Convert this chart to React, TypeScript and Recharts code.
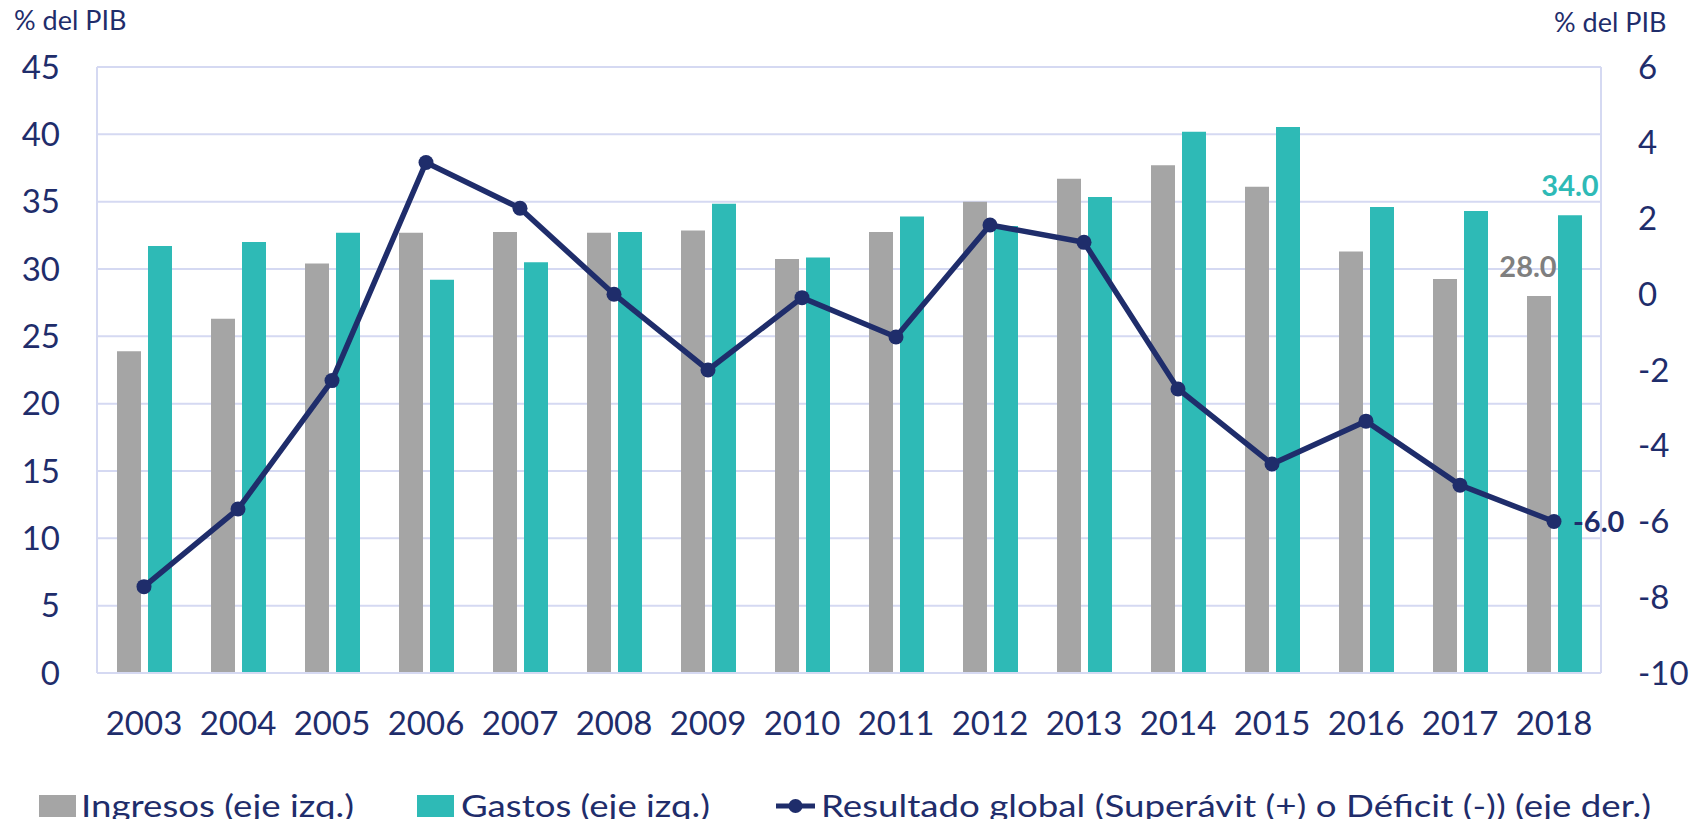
import React from 'react';
import {
  ComposedChart,
  Bar,
  Line,
  XAxis,
  YAxis,
  CartesianGrid,
  LabelList,
} from 'recharts';

const years = ['2003', '2004', '2005', '2006', '2007', '2008', '2009', '2010', '2011', '2012', '2013', '2014', '2015', '2016', '2017', '2018'];
const ingresos = [23.9, 26.3, 30.4, 32.7, 32.75, 32.7, 32.85, 30.75, 32.75, 35.0, 36.7, 37.7, 36.1, 31.3, 29.25, 28.0];
const gastos = [31.7, 32.0, 32.7, 29.2, 30.5, 32.75, 34.85, 30.85, 33.9, 33.2, 35.35, 40.2, 40.55, 34.6, 34.3, 34.0];
const resultado = [-7.72, -5.67, -2.28, 3.48, 2.27, 0.0, -2.0, -0.09, -1.13, 1.83, 1.37, -2.5, -4.48, -3.35, -5.04, -6.0];

const leftTicks = [0, 5, 10, 15, 20, 25, 30, 35, 40, 45];
const rightTicks = [-10, -8, -6, -4, -2, 0, 2, 4, 6];
const axisTitle = '% del PIB';

const seriesNames = {
  ingresos: 'Ingresos (eje izq.)',
  gastos: 'Gastos (eje izq.)',
  resultado: 'Resultado global (Superávit (+) o Déficit (-)) (eje der.)',
};

const GRAY = '#A5A5A5';
const TEAL = '#2EBAB6';
const NAVY = '#1F2D6B';
const GRID = '#D5D9F2';
const LABEL_GRAY = '#7F7F7F';
const FONT = 'Lato, "Open Sans", sans-serif';

const data = years.map((year, i) => ({
  year,
  ingresos: ingresos[i],
  gastos: gastos[i],
  resultado: resultado[i],
}));

const last = years.length - 1;

const barLabel = (color: string, dx: number) => (props: any) => {
  const { x, y, width, value, index } = props;
  if (index !== last) return null;
  return (
    <text
      x={Number(x) + Number(width) / 2 + dx}
      y={Number(y) - 19}
      textAnchor="middle"
      fill={color}
      fontSize={29}
      fontWeight={700}
      fontFamily={FONT}
    >
      {Number(value).toFixed(1)}
    </text>
  );
};

const lineLabel = (props: any) => {
  const { x, y, value, index } = props;
  if (index !== last) return null;
  return (
    <text
      x={Number(x) + 19}
      y={Number(y)}
      dy="0.36em"
      textAnchor="start"
      fill={NAVY}
      fontSize={29}
      fontWeight={700}
      fontFamily={FONT}
    >
      {Number(value).toFixed(1)}
    </text>
  );
};

const tickStyle = { fill: NAVY, fontSize: 33, fontFamily: FONT };
const legendText = { fill: NAVY, fontSize: 31, fontFamily: FONT, lengthAdjust: 'spacingAndGlyphs' as const };

const App = () => {
  return (
    <div style={{ position: 'relative', width: 1684, height: 811, fontFamily: FONT }}>
      <ComposedChart
        width={1684}
        height={811}
        data={data}
        margin={{ top: 59, right: 0, bottom: 0, left: 0 }}
        barSize={24}
        barGap={7}
      >
        <CartesianGrid yAxisId="left" vertical={false} stroke={GRID} strokeWidth={2} />
        <XAxis
          dataKey="year"
          height={146}
          tickLine={false}
          axisLine={{ stroke: GRID, strokeWidth: 2 }}
          tick={tickStyle}
          tickMargin={33}
          interval={0}
        />
        <YAxis
          yAxisId="left"
          orientation="left"
          width={89}
          domain={[0, 45]}
          ticks={leftTicks}
          tickLine={false}
          axisLine={{ stroke: GRID, strokeWidth: 2 }}
          tick={tickStyle}
          tickMargin={31}
        />
        <YAxis
          yAxisId="right"
          orientation="right"
          width={91}
          domain={[-10, 6]}
          ticks={rightTicks}
          tickLine={false}
          axisLine={{ stroke: GRID, strokeWidth: 2 }}
          tick={{ ...tickStyle, textAnchor: 'start' }}
          tickMargin={31}
        />
        <Bar yAxisId="left" dataKey="ingresos" name={seriesNames.ingresos} fill={GRAY} isAnimationActive={false}>
          <LabelList dataKey="ingresos" content={barLabel(LABEL_GRAY, -11)} />
        </Bar>
        <Bar yAxisId="left" dataKey="gastos" name={seriesNames.gastos} fill={TEAL} isAnimationActive={false}>
          <LabelList dataKey="gastos" content={barLabel(TEAL, 0)} />
        </Bar>
        <Line
          yAxisId="right"
          dataKey="resultado"
          name={seriesNames.resultado}
          stroke={NAVY}
          strokeWidth={5.5}
          dot={{ r: 7.5, fill: NAVY, stroke: NAVY, strokeWidth: 0 }}
          activeDot={false}
          isAnimationActive={false}
        >
          <LabelList dataKey="resultado" content={lineLabel} />
        </Line>
      </ComposedChart>

      <svg
        width={1684}
        height={811}
        style={{ position: 'absolute', left: 0, top: 0, pointerEvents: 'none', overflow: 'visible' }}
      >
        <text x={6} y={22} fill={NAVY} fontSize={27} fontFamily={FONT}>{axisTitle}</text>
        <text x={1546} y={24} fill={NAVY} fontSize={27} fontFamily={FONT}>{axisTitle}</text>

        <rect x={31} y={787} width={37} height={22} fill={GRAY} />
        <text x={73} y={809} textLength={273} {...legendText}>{seriesNames.ingresos}</text>

        <rect x={409} y={787} width={37} height={22} fill={TEAL} />
        <text x={453} y={809} textLength={249} {...legendText}>{seriesNames.gastos}</text>

        <line x1={768} y1={798} x2={807} y2={798} stroke={NAVY} strokeWidth={5} />
        <circle cx={787.5} cy={798} r={7} fill={NAVY} />
        <text x={813} y={809} textLength={830} {...legendText}>{seriesNames.resultado}</text>
      </svg>
    </div>
  );
};

export default App;
